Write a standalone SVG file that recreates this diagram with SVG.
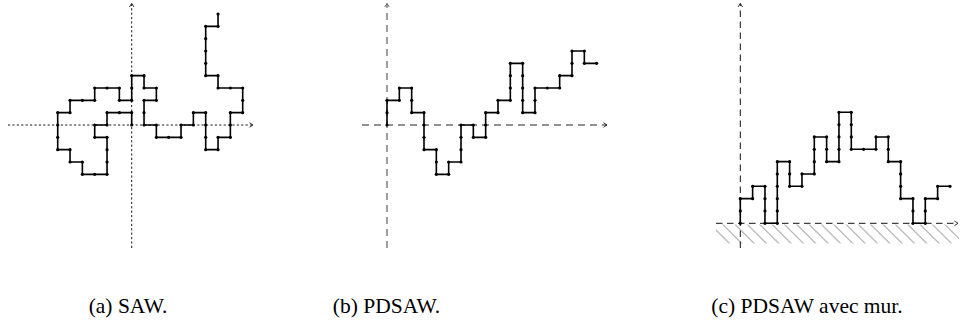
<svg xmlns="http://www.w3.org/2000/svg" width="960" height="325" viewBox="0 0 960 325">
<style>
.walk{fill:none;stroke:#000;stroke-width:1.6;stroke-linejoin:miter;vector-effect:non-scaling-stroke;marker-start:url(#dot);marker-mid:url(#dot);marker-end:url(#dot)}
.dotted{fill:none;stroke:#000;stroke-width:0.9;stroke-dasharray:2.2,2.2}
.dashG{fill:none;stroke:#888;stroke-width:1.6;stroke-dasharray:7,5}
.dashK{fill:none;stroke:#222;stroke-width:1;stroke-dasharray:7,5}
.dashC{fill:none;stroke:#111;stroke-width:1;stroke-dasharray:6.5,4.5}
.hatch{stroke:#bbb;stroke-width:1.3}
.lbl{font-family:"Liberation Serif","Times New Roman",serif;font-size:21.5px;fill:#000;text-anchor:middle}
</style>
<defs>
<marker id="dot" markerUnits="userSpaceOnUse" markerWidth="1" markerHeight="1" refX="0" refY="0" overflow="visible">
<circle cx="0" cy="0" r="0.13" fill="#000"/>
</marker>
<marker id="arr" markerUnits="userSpaceOnUse" markerWidth="10" markerHeight="10" refX="0" refY="0" orient="auto" overflow="visible">
<path d="M-3.5,-2.3 L0,0 L-3.5,2.3" fill="none" stroke="#000" stroke-width="0.8" stroke-dasharray="none"/>
</marker>
<marker id="arrG" markerUnits="userSpaceOnUse" markerWidth="10" markerHeight="10" refX="0" refY="0" orient="auto" overflow="visible">
<path d="M-3.5,-2.3 L0,0 L-3.5,2.3" fill="none" stroke="#666" stroke-width="1" stroke-dasharray="none"/>
</marker>
<clipPath id="hclip"><rect x="716" y="224.5" width="243" height="19"/></clipPath>
</defs>

<g id="connectors">
<!-- panel a axes -->
<line class="dotted" x1="8" y1="125" x2="253" y2="125" marker-end="url(#arr)"/>
<line class="dotted" x1="131.7" y1="248" x2="131.7" y2="3.5" marker-end="url(#arr)"/>
<!-- panel b axes -->
<line class="dashK" x1="362" y1="125" x2="607" y2="125" marker-end="url(#arr)"/>
<line class="dashG" x1="387" y1="248" x2="387" y2="3.5" marker-end="url(#arrG)"/>
<!-- panel c axes -->
<g clip-path="url(#hclip)">
<path class="hatch" d="M710,224 l20,20 M722.3,224 l20,20 M734.7,224 l20,20 M747,224 l20,20 M759.3,224 l20,20 M771.7,224 l20,20 M784,224 l20,20 M796.3,224 l20,20 M808.7,224 l20,20 M821,224 l20,20 M833.3,224 l20,20 M845.7,224 l20,20 M858,224 l20,20 M870.3,224 l20,20 M882.7,224 l20,20 M895,224 l20,20 M907.3,224 l20,20 M919.7,224 l20,20 M932,224 l20,20 M944.3,224 l20,20"/>
</g>
<line class="dashC" x1="716" y1="223.3" x2="958" y2="223.3" marker-end="url(#arr)"/>
<line class="dashC" x1="740.3" y1="248" x2="740.3" y2="3.5" marker-end="url(#arr)"/>
</g>

<g id="saw" transform="translate(131.7,125) scale(12.333,-12.333)">
<polyline class="walk" points="0,0 0,1 -1,1 -2,1 -2,0 -3,0 -3,-1 -2,-1 -2,-2 -2,-3 -2,-4 -3,-4 -4,-4 -4,-3 -5,-3 -5,-2 -6,-2 -6,-1 -6,0 -6,1 -5,1 -5,2 -4,2 -3,2 -3,3 -2,3 -1,3 -1,2 0,2 0,3 0,4 1,4 1,3 2,3 2,2 1,2 1,1 1,0 2,0 2,-1 3,-1 4,-1 4,0 5,0 5,1 6,1 6,0 6,-1 6,-2 7,-2 7,-1 8,-1 8,0 8,1 9,1 9,2 9,3 8,3 7,3 7,4 6,4 6,5 6,6 6,7 6,8 7,8 7,9"/>
</g>

<g id="pdsaw" transform="translate(387,125) scale(12.333,-12.333)">
<polyline class="walk" points="0,0 0,1 0,2 1,2 1,3 2,3 2,2 2,1 3,1 3,0 3,-1 3,-2 4,-2 4,-3 4,-4 5,-4 5,-3 6,-3 6,-2 6,-1 6,0 7,0 7,-1 8,-1 8,0 8,1 9,1 9,2 10,2 10,3 10,4 10,5 11,5 11,4 11,3 11,2 11,1 12,1 12,2 12,3 13,3 14,3 14,4 15,4 15,5 15,6 16,6 16,5 17,5"/>
</g>

<g id="pdsaw-mur" transform="translate(740.3,223.3) scale(12.333,-12.333)">
<polyline class="walk" points="0,0 0,1 0,2 1,2 1,3 2,3 2,2 2,1 2,0 3,0 3,1 3,2 3,3 3,4 3,5 4,5 4,4 4,3 5,3 5,4 6,4 6,5 6,6 6,7 7,7 7,6 7,5 8,5 8,6 8,7 8,8 8,9 9,9 9,8 9,7 9,6 10,6 11,6 11,7 12,7 12,6 12,5 13,5 13,4 13,3 13,2 14,2 14,1 14,0 15,0 15,1 15,2 16,2 16,3 17,3"/>
</g>

<g id="labels">
<text class="lbl" x="128" y="313">(a) SAW.</text>
<text class="lbl" x="386.5" y="313">(b) PDSAW.</text>
<text class="lbl" x="807" y="313">(c) PDSAW avec mur.</text>
</g>
</svg>
